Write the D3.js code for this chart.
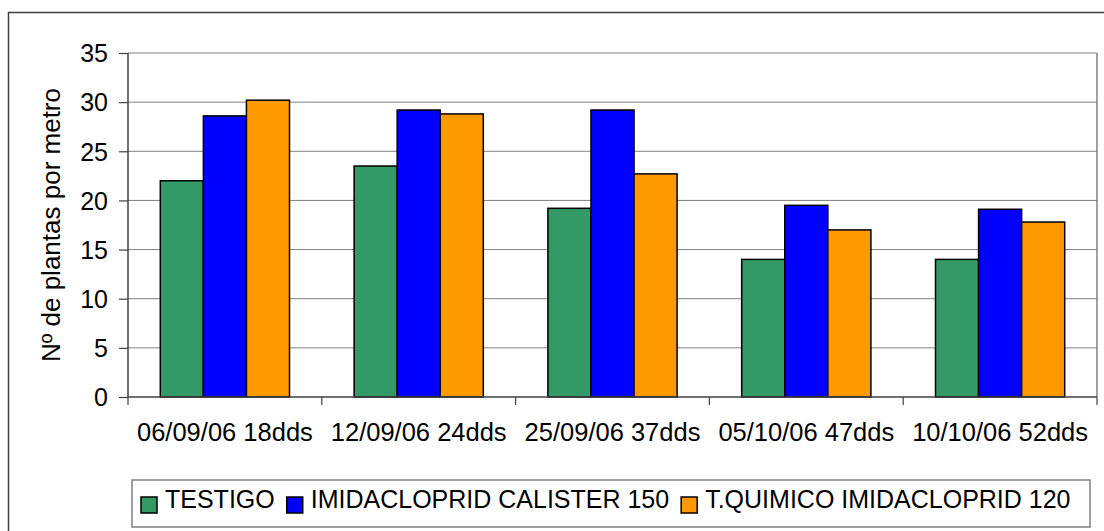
<!DOCTYPE html>
<html>
<head>
<meta charset="utf-8">
<script src="https://cdn.jsdelivr.net/npm/d3@7/dist/d3.min.js"></script>
<style>
  body { margin: 0; background: #fff; }
  text { font-family: "Liberation Sans", Arial, sans-serif; fill: #000; }
</style>
</head>
<body>
<svg></svg>
<script>
const width = 1104;
const height = 531;

const categories = ['06/09/06 18dds', '12/09/06 24dds', '25/09/06 37dds', '05/10/06 47dds', '10/10/06 52dds'];
const seriesNames = ['TESTIGO', 'IMIDACLOPRID CALISTER 150', 'T.QUIMICO IMIDACLOPRID 120'];
const testigo = [22.0, 23.5, 19.2, 14.0, 14.0];
const calister = [28.6, 29.2, 29.2, 19.5, 19.1];
const quimico = [30.2, 28.8, 22.7, 17.0, 17.8];
const yTicks = [0, 5, 10, 15, 20, 25, 30, 35];
const colors = ['#339966', '#0000ff', '#ff9900'];

const series = [testigo, calister, quimico];

const plot = { left: 128, right: 1097, top: 53, bottom: 397 };

const svg = d3.select('svg')
  .attr('width', width)
  .attr('height', height);

// outer chart border (runs off the right and bottom edge)
svg.append('rect')
  .attr('x', 8.5)
  .attr('y', 12.5)
  .attr('width', 1110)
  .attr('height', 540)
  .style('fill', 'none')
  .style('stroke', '#404040')
  .style('stroke-width', 1.5);

const x = d3.scaleBand()
  .domain(categories)
  .range([plot.left, plot.right])
  .paddingInner(1 / 3)
  .paddingOuter(1 / 6);

const xs = d3.scaleBand()
  .domain(d3.range(series.length))
  .range([0, x.bandwidth()]);

const y = d3.scaleLinear()
  .domain([0, 35])
  .range([plot.bottom, plot.top]);

// gridlines
svg.append('g')
  .selectAll('line')
  .data(yTicks.filter((d) => d > 0))
  .enter().append('line')
  .attr('x1', plot.left)
  .attr('x2', plot.right)
  .attr('y1', (d) => y(d))
  .attr('y2', (d) => y(d))
  .style('stroke', '#808080')
  .style('stroke-width', 1);

// plot area right edge
svg.append('line')
  .attr('x1', plot.right).attr('x2', plot.right)
  .attr('y1', plot.top).attr('y2', plot.bottom)
  .style('stroke', '#808080')
  .style('stroke-width', 1.5);

// bars
const groups = svg.append('g')
  .selectAll('g')
  .data(categories)
  .enter().append('g')
  .attr('transform', (d) => `translate(${x(d)},0)`);

groups.selectAll('rect')
  .data((d, i) => series.map((s, k) => ({ k, v: s[i] })))
  .enter().append('rect')
  .attr('x', (d) => xs(d.k))
  .attr('y', (d) => y(d.v))
  .attr('width', xs.bandwidth())
  .attr('height', (d) => y(0) - y(d.v))
  .style('fill', (d) => colors[d.k])
  .style('stroke', '#000')
  .style('stroke-width', 1.5);

// y axis
const yAxis = d3.axisLeft(y)
  .tickValues(yTicks)
  .tickSize(9)
  .tickPadding(11);

const gy = svg.append('g')
  .attr('transform', `translate(${plot.left},0)`)
  .call(yAxis);
gy.select('.domain').remove();
gy.selectAll('.tick line').style('stroke', '#404040').style('stroke-width', 1.2);
gy.selectAll('.tick text')
  .style('font-family', '"Liberation Sans", Arial, sans-serif')
  .style('font-size', '25px')
  .attr('dy', '0.35em');

svg.append('line')
  .attr('x1', plot.left).attr('x2', plot.left)
  .attr('y1', plot.top).attr('y2', plot.bottom)
  .style('stroke', '#404040')
  .style('stroke-width', 1.5);

// x axis
svg.append('line')
  .attr('x1', plot.left).attr('x2', plot.right)
  .attr('y1', plot.bottom).attr('y2', plot.bottom)
  .style('stroke', '#404040')
  .style('stroke-width', 1.5);

const boundaries = d3.range(categories.length + 1).map((i) => plot.left + i * x.step());
svg.append('g')
  .selectAll('line')
  .data(boundaries)
  .enter().append('line')
  .attr('x1', (d) => d).attr('x2', (d) => d)
  .attr('y1', plot.bottom).attr('y2', plot.bottom + 8)
  .style('stroke', '#404040')
  .style('stroke-width', 1.2);

svg.append('g')
  .selectAll('text')
  .data(categories)
  .enter().append('text')
  .attr('x', (d) => x(d) + x.bandwidth() / 2)
  .attr('y', 441)
  .attr('text-anchor', 'middle')
  .style('font-size', '25.5px')
  .text((d) => d);

// y title
svg.append('text')
  .attr('transform', `translate(60,${(plot.top + plot.bottom) / 2}) rotate(-90)`)
  .attr('text-anchor', 'middle')
  .style('font-size', '26px')
  .text('Nº de plantas por metro');

// legend
const legend = svg.append('g');
legend.append('rect')
  .attr('x', 132)
  .attr('y', 480)
  .attr('width', 958)
  .attr('height', 47)
  .style('fill', '#fff')
  .style('stroke', '#808080')
  .style('stroke-width', 1.5);

let lx = 141;
seriesNames.forEach((name, k) => {
  legend.append('rect')
    .attr('x', lx)
    .attr('y', 497)
    .attr('width', 16)
    .attr('height', 16)
    .style('fill', colors[k])
    .style('stroke', '#000')
    .style('stroke-width', 1.5);
  const t = legend.append('text')
    .attr('x', lx + 24)
    .attr('y', 508)
    .style('font-size', '25px')
    .text(name);
  lx += 24 + t.node().getComputedTextLength() + 12;
});
</script>
</body>
</html>
